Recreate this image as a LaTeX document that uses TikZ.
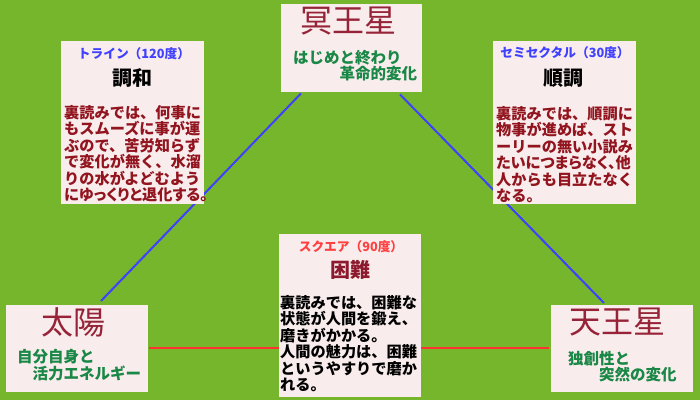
\documentclass[tikz,border=0pt]{standalone}
\usepackage{fontspec}
\newfontfamily\jp{Noto Sans CJK JP}
\newfontfamily\jpp[RawFeature=+palt]{Noto Sans CJK JP}
\usetikzlibrary{calc}
\pgfdeclarelayer{bg}
\pgfsetlayers{bg,main}
\definecolor{bggreen}{RGB}{118,182,44}
\definecolor{boxpink}{RGB}{249,236,236}
\definecolor{planetred}{RGB}{150,35,55}
\definecolor{subgreen}{RGB}{25,135,70}
\definecolor{aspblue}{RGB}{64,64,255}
\definecolor{aspred}{RGB}{255,64,64}
\definecolor{bodyred}{RGB}{145,20,30}
\definecolor{headred}{RGB}{140,25,45}
\definecolor{lineblue}{RGB}{64,64,255}
\definecolor{linered}{RGB}{255,50,50}
\tikzset{
  box/.style={fill=boxpink, draw=none, anchor=north west, inner sep=0},
  planet/.style={font=\jp\fontsize{32}{32}\selectfont, text=planetred, inner sep=0},
  subt/.style={font=\jp\bfseries\fontsize{15.5}{16.5}\selectfont, text=subgreen, inner sep=0, align=left, anchor=north west},
  aspect/.style={font=\jp\bfseries\fontsize{12.7}{13}\selectfont, inner sep=0},
  heading/.style={font=\jp\bfseries\fontsize{20}{20}\selectfont, inner sep=0},
  body/.style={font=\jp\bfseries\fontsize{15.2}{16.5}\selectfont, inner sep=0, align=left, anchor=north west},
  blueline/.style={draw=lineblue, line width=2},
  redline/.style={draw=linered, line width=1.8}
}
\begin{document}
\begin{tikzpicture}[x=1pt,y=-1pt]
\begin{pgfonlayer}{bg}
\fill[bggreen] (0,0) rectangle (700,400);
\end{pgfonlayer}
\useasboundingbox (0,0) rectangle (700,400);

% boxes
\node[box, minimum width=141, minimum height=88] (pluto) at (281,4) {};
\node[box, minimum width=142, minimum height=87] (sun) at (6,305) {};
\node[box, minimum width=142, minimum height=87] (uranus) at (551,305) {};
\node[box, minimum width=143, minimum height=163] (harmony) at (61,41) {};
\node[box, minimum width=143, minimum height=163] (smooth) at (493,41) {};
\node[box, minimum width=142, minimum height=163] (diff) at (279,234) {};

% planets
\node[planet] (plutoT) at (348,21) {冥王星};
\node[subt] (plutoS) at (293,50) {はじめと終わり\\\hspace*{3em}革命的変化};
\node[planet] (sunT) at (73,322) {太陽};
\node[subt] (sunS) at (17,349) {自分自身と\\\hspace*{1em}活力エネルギー};
\node[planet] (uranusT) at (617,322) {天王星};
\node[subt] (uranusS) at (568,351) {独創性と\\\hspace*{2em}突然の変化};

% aspects
\node[aspect, text=aspblue] (harmonyA) at (134,54) {トライン（120度）};
\node[heading] (harmonyH) at (132,78) {調和};
\node[body, text=bodyred] (harmonyB) at (64,105) {裏読みでは、何事に\\もスムーズに事が運\\ぶので、苦労知らず\\で変化が無く、水溜\\りの水がよどむよう\\{\jpp にゆっくりと退化する。}};

\node[aspect, text=aspblue] (smoothA) at (565,53) {セミセクタル（30度）};
\node[heading] (smoothH) at (563,78) {順調};
\node[body, text=bodyred] (smoothB) at (496,106) {裏読みでは、順調に\\物事が進めば、スト\\ーリーの無い小説み\\{\jpp たいにつまらなく、他}\\人からも目立たなく\\なる。};

\node[aspect, text=aspred] (diffA) at (351,247) {スクエア（90度）};
\node[heading, text=headred] (diffH) at (350,270) {困難};
\node[body] (diffB) at (280,295) {裏読みでは、困難な\\状態が人間を鍛え、\\磨きがかかる。\\人間の魅力は、困難\\というやすりで磨か\\れる。};

% connectors
\begin{pgfonlayer}{bg}
\draw[blueline] ($(pluto.south west)+(20,1)$) -- ($(sun.north west)+(95,-4)$);
\draw[blueline] ($(pluto.south west)+(119,2)$) -- ($(uranus.north west)+(53,-2)$);
\draw[redline] ($(sun.east)+(1,-1)$) -- ($(uranus.west)+(-2,-1)$);
\end{pgfonlayer}
\end{tikzpicture}
\end{document}
